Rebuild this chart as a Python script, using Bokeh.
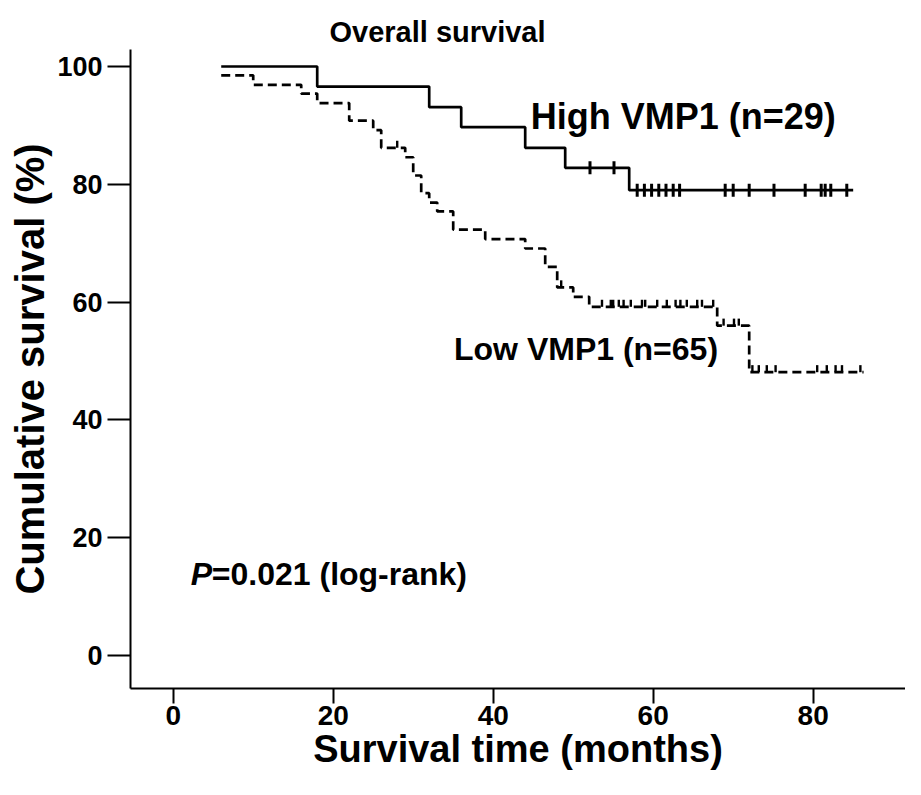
from bokeh.plotting import figure
from bokeh.models import Range1d, FixedTicker, Label, ColumnDataSource
from bokeh.embed import file_html
from bokeh.resources import INLINE

# ---------------- data ----------------
title_text = "Overall survival"
x_label = "Survival time (months)"
y_label = "Cumulative survival (%)"
x_ticks = [0, 20, 40, 60, 80]
y_ticks = [0, 20, 40, 60, 80, 100]

high_label = "High VMP1 (n=29)"
high_times = [6, 18, 32, 36, 44, 49, 57]
high_surv = [100, 96.6, 93.1, 89.7, 86.2, 82.8, 79.0]
high_end = 85.0
high_censor = [52.1, 55.1, 58.0, 58.9, 59.8, 60.7, 61.6, 62.5, 63.3, 69.0,
               70.0, 72.0, 75.1, 79.0, 81.0, 81.5, 82.2, 84.2]

low_label = "Low VMP1 (n=65)"
low_times = [6, 10, 16, 18, 22, 25, 26, 29, 30, 31, 32, 33, 35, 39, 44,
             46.5, 48, 50, 52, 68, 72]
low_surv = [98.5, 96.9, 95.4, 93.8, 90.8, 89.2, 86.2, 84.6, 81.5, 78.5,
            76.9, 75.4, 72.3, 70.7, 69.1, 66.0, 62.5, 60.9, 59.2, 56.0, 48.1]
low_end = 86.3
low_censor = [28.0, 48.5, 53.6, 54.7, 55.0, 55.7, 56.3, 57.2, 58.6, 59.0,
              60.5, 61.7, 62.8, 63.4, 64.2, 65.5, 66.1, 67.5, 68.8, 70.1,
              70.7, 72.4, 73.2, 74.2, 75.3, 80.5, 81.7, 82.8, 83.6, 85.9]

p_value_label = "=0.021 (log-rank)"

FONT = "Liberation Sans"


def level_at(times, surv, t):
    s = surv[0]
    for ti, si in zip(times, surv):
        if ti <= t:
            s = si
    return s


p = figure(width=905, height=779,
           x_range=Range1d(-5.34, 91.54), y_range=Range1d(-5.6, 102.89),
           output_backend="svg", toolbar_location=None,
           min_border_left=130, min_border_right=0,
           min_border_top=49, min_border_bottom=91)

p.outline_line_color = None
p.xgrid.grid_line_color = None
p.ygrid.grid_line_color = None
p.background_fill_color = "white"
p.border_fill_color = "white"

# title
p.title.text = title_text
p.title.align = "left"
p.title.offset = 199
p.title.standoff = 4
p.title.text_font = FONT
p.title.text_font_size = "29px"
p.title.text_font_style = "bold"
p.title.text_color = "black"

# axes
for ax in (p.xaxis[0], p.yaxis[0]):
    ax.axis_line_width = 2
    ax.axis_line_color = "black"
    ax.major_tick_line_width = 2
    ax.major_tick_line_color = "black"
    ax.major_tick_in = 0
    ax.minor_tick_line_color = None
    ax.major_label_text_font = FONT
    ax.major_label_text_font_style = "bold"
    ax.major_label_text_color = "black"
    ax.axis_label_text_font = FONT
    ax.axis_label_text_font_style = "bold"
    ax.axis_label_text_color = "black"

p.xaxis.ticker = FixedTicker(ticks=x_ticks)
p.yaxis.ticker = FixedTicker(ticks=y_ticks)
p.xaxis.major_tick_out = 15
p.yaxis.major_tick_out = 23
p.xaxis.major_label_text_font_size = "28px"
p.yaxis.major_label_text_font_size = "27px"
p.xaxis.major_label_standoff = 2
p.yaxis.major_label_standoff = 5
p.xaxis.axis_label = x_label
p.yaxis.axis_label = y_label
p.xaxis.axis_label_text_font_size = "38px"
p.yaxis.axis_label_text_font_size = "40px"
p.xaxis.axis_label_standoff = 0
p.yaxis.axis_label_standoff = 2

# curves
hs = ColumnDataSource(dict(x=high_times + [high_end], y=high_surv + [high_surv[-1]]))
ls = ColumnDataSource(dict(x=low_times + [low_end], y=low_surv + [low_surv[-1]]))
p.step("x", "y", source=hs, mode="after", line_color="black", line_width=2.7)
p.step("x", "y", source=ls, mode="after", line_color="black", line_width=2.7,
       line_dash="9 5")

# censor marks
hl = [level_at(high_times, high_surv, t) for t in high_censor]
p.segment(x0=high_censor, x1=high_censor, y0=[v - 1.1 for v in hl],
          y1=[v + 1.1 for v in hl], line_color="black", line_width=3)
ll = [level_at(low_times, low_surv, t) for t in low_censor]
p.segment(x0=low_censor, x1=low_censor, y0=ll, y1=[v + 1.2 for v in ll],
          line_color="black", line_width=2.4)


# text annotations
def lab(x, y, text, size, style="bold", x_offset=0):
    return Label(x=x, y=y, text=text, text_font=FONT, text_font_size=size,
                 text_font_style=style, text_color="black",
                 text_baseline="alphabetic", text_align="left", x_offset=x_offset)


p.add_layout(lab(44.7, 91.5, high_label, "36px"))
p.add_layout(lab(35.1, 52.0, low_label, "32px"))
p.add_layout(lab(2.2, 13.8, "P", "32px", style="bold italic"))
p.add_layout(lab(2.2, 13.8, p_value_label, "32px", x_offset=21))

open("out.html", "w").write(file_html(p, INLINE))
